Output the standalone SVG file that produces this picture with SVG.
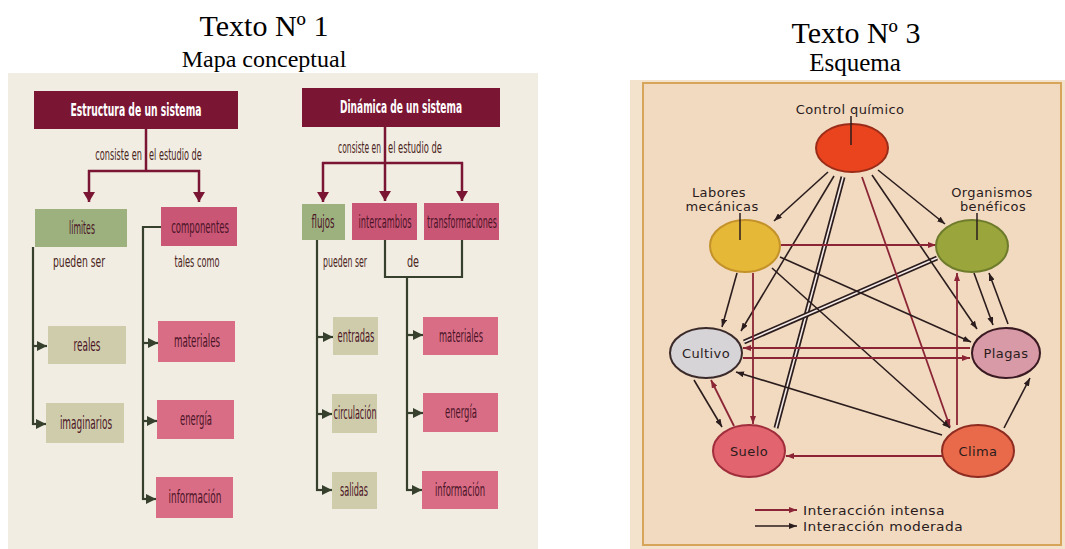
<svg xmlns="http://www.w3.org/2000/svg" width="1065" height="549" viewBox="0 0 1065 549">
  <style>
    .title { font-family: "Liberation Serif", "Times New Roman", serif; fill: #000; text-anchor: middle; }
    .hdr { font-family: "DejaVu Sans Condensed", "DejaVu Sans", sans-serif; font-weight: bold; font-size: 17px; fill: #ffffff; text-anchor: middle; }
    .lbl { font-family: "DejaVu Sans Condensed", "DejaVu Sans", sans-serif; font-size: 17px; fill: #4b1426; text-anchor: middle; }
    .lnk { font-family: "DejaVu Sans Condensed", "DejaVu Sans", sans-serif; font-size: 15px; fill: #4a2420; }
    .mid { text-anchor: middle; }
    .end { text-anchor: end; }
    .start { text-anchor: start; }
    .box-h { fill: #7a1533; }
    .box-g { fill: #9db17f; }
    .box-p { fill: #ca5676; }
    .box-l { fill: #da6d86; }
    .box-b { fill: #cfccab; }
    .top { stroke: #7a1533; stroke-width: 2.5; fill: none; }
    .side { stroke: #36402c; stroke-width: 2.2; fill: none; }
    .node { stroke-width: 2; }
    .ntxt { font-family: "DejaVu Sans", "Noto Sans", sans-serif; font-size: 13px; letter-spacing: 0.4px; fill: #2a1c1c; text-anchor: middle; }
    .tick { stroke: #2a1c1c; stroke-width: 1.5; }
    .dk { stroke: #2b1d1d; stroke-width: 1.6; fill: none; marker-end: url(#adk); }
    .mr { stroke: #8b2535; stroke-width: 1.8; fill: none; marker-end: url(#amr); }
    .dbl-o { stroke: #2b1d1d; stroke-width: 5; fill: none; }
    .dbl-i { stroke: #f6ecea; stroke-width: 1.6; fill: none; }
  </style>
  <defs>
    <marker id="atop" viewBox="0 0 10 12" refX="10" refY="6" markerWidth="10" markerHeight="12" markerUnits="userSpaceOnUse" orient="auto">
      <path d="M0,0 L10,6 L0,12 Z" fill="#7a1533"/>
    </marker>
    <marker id="aside" viewBox="0 0 10 10" refX="10" refY="5" markerWidth="10" markerHeight="10" markerUnits="userSpaceOnUse" orient="auto">
      <path d="M0,0 L10,5 L0,10 Z" fill="#36402c"/>
    </marker>
    <marker id="adk" viewBox="0 0 8 6" refX="8" refY="3" markerWidth="8" markerHeight="6" markerUnits="userSpaceOnUse" orient="auto">
      <path d="M0,0 L8,3 L0,6 Z" fill="#2b1d1d"/>
    </marker>
    <marker id="amr" viewBox="0 0 8 6" refX="8" refY="3" markerWidth="8" markerHeight="6" markerUnits="userSpaceOnUse" orient="auto">
      <path d="M0,0 L8,3 L0,6 Z" fill="#8b2535"/>
    </marker>
  </defs>

  <rect width="1065" height="549" fill="#ffffff"/>

  <!-- Titles -->
  <text class="title" x="264" y="36" font-size="30">Texto Nº 1</text>
  <text class="title" x="264" y="67" font-size="24">Mapa conceptual</text>
  <text class="title" x="856" y="43" font-size="30">Texto Nº 3</text>
  <text class="title" x="855" y="71" font-size="25">Esquema</text>

  <!-- ===== Concept map panel ===== -->
  <rect x="8" y="73" width="530" height="476" fill="#f1ede3"/>

  <g id="connectors-map">
    <!-- Estructura branches -->
    <line class="top" x1="146" y1="129" x2="146" y2="171"/>
    <line class="top" x1="88" y1="171" x2="200" y2="171"/>
    <line class="top" x1="89" y1="170" x2="89" y2="202" marker-end="url(#atop)"/>
    <line class="top" x1="199" y1="170" x2="199" y2="202" marker-end="url(#atop)"/>
    <!-- Dinámica branches -->
    <line class="top" x1="385" y1="127" x2="385" y2="201" marker-end="url(#atop)"/>
    <line class="top" x1="322" y1="163" x2="463" y2="163"/>
    <line class="top" x1="323" y1="162" x2="323" y2="202" marker-end="url(#atop)"/>
    <line class="top" x1="462" y1="162" x2="462" y2="201" marker-end="url(#atop)"/>

    <!-- límites -> reales / imaginarios -->
    <line class="side" x1="33" y1="247" x2="33" y2="425"/>
    <line class="side" x1="32" y1="346" x2="47" y2="346" marker-end="url(#aside)"/>
    <line class="side" x1="32" y1="424" x2="46" y2="424" marker-end="url(#aside)"/>
    <!-- componentes -> materiales / energía / información -->
    <polyline class="side" points="161,227 143,227 143,500"/>
    <line class="side" x1="142" y1="343" x2="158" y2="343" marker-end="url(#aside)"/>
    <line class="side" x1="142" y1="421" x2="157" y2="421" marker-end="url(#aside)"/>
    <line class="side" x1="142" y1="499" x2="156" y2="499" marker-end="url(#aside)"/>
    <!-- flujos -> entradas / circulación / salidas -->
    <line class="side" x1="317" y1="240" x2="317" y2="491"/>
    <line class="side" x1="316" y1="337" x2="333" y2="337" marker-end="url(#aside)"/>
    <line class="side" x1="316" y1="414" x2="332" y2="414" marker-end="url(#aside)"/>
    <line class="side" x1="316" y1="490" x2="332" y2="490" marker-end="url(#aside)"/>
    <!-- intercambios / transformaciones de -> materiales / energía / información -->
    <polyline class="side" points="385,240 385,277 462,277 462,240"/>
    <line class="side" x1="407" y1="277" x2="407" y2="491"/>
    <line class="side" x1="406" y1="335" x2="423" y2="335" marker-end="url(#aside)"/>
    <line class="side" x1="406" y1="413" x2="423" y2="413" marker-end="url(#aside)"/>
    <line class="side" x1="406" y1="490" x2="422" y2="490" marker-end="url(#aside)"/>

    <!-- linking words (condensed by a horizontal scale of 0.55) -->
    <text class="lnk end" transform="translate(142,160) scale(0.55,1)" textLength="85" lengthAdjust="spacingAndGlyphs">consiste en</text>
    <text class="lnk start" transform="translate(149,160) scale(0.55,1)" textLength="96" lengthAdjust="spacingAndGlyphs">el estudio de</text>
    <text class="lnk mid" transform="translate(79,267) scale(0.55,1)" textLength="95" lengthAdjust="spacingAndGlyphs">pueden ser</text>
    <text class="lnk mid" transform="translate(197,267) scale(0.55,1)" textLength="82" lengthAdjust="spacingAndGlyphs">tales como</text>
    <text class="lnk end" transform="translate(381,153) scale(0.55,1)" textLength="78" lengthAdjust="spacingAndGlyphs">consiste en</text>
    <text class="lnk start" transform="translate(388,153) scale(0.55,1)" textLength="98" lengthAdjust="spacingAndGlyphs">el estudio de</text>
    <text class="lnk mid" transform="translate(345,267) scale(0.55,1)" textLength="80" lengthAdjust="spacingAndGlyphs">pueden ser</text>
    <text class="lnk mid" transform="translate(413,267) scale(0.55,1)" textLength="22" lengthAdjust="spacingAndGlyphs">de</text>
  </g>

  <g id="estructura">
    <rect class="box-h" x="34" y="91" width="204" height="38"/>
    <text class="hdr" x="136" y="116" textLength="131" lengthAdjust="spacingAndGlyphs">Estructura de un sistema</text>
  </g>
  <g id="limites">
    <rect class="box-g" x="35" y="209" width="92" height="38"/>
    <text class="lbl" transform="translate(82,234) scale(0.55,1)" textLength="47" lengthAdjust="spacingAndGlyphs">límites</text>
  </g>
  <g id="componentes">
    <rect class="box-p" x="161" y="207" width="76" height="39"/>
    <text class="lbl" transform="translate(200,233) scale(0.55,1)" textLength="105" lengthAdjust="spacingAndGlyphs">componentes</text>
  </g>
  <g id="reales">
    <rect class="box-b" x="48" y="326" width="78" height="38"/>
    <text class="lbl" transform="translate(87,351) scale(0.55,1)" textLength="49" lengthAdjust="spacingAndGlyphs">reales</text>
  </g>
  <g id="imaginarios">
    <rect class="box-b" x="46" y="403" width="78" height="40"/>
    <text class="lbl" transform="translate(86,429) scale(0.55,1)" textLength="95" lengthAdjust="spacingAndGlyphs">imaginarios</text>
  </g>
  <g id="materiales-1">
    <rect class="box-l" x="158" y="321" width="77" height="41"/>
    <text class="lbl" transform="translate(197,347) scale(0.55,1)" textLength="84" lengthAdjust="spacingAndGlyphs">materiales</text>
  </g>
  <g id="energia-1">
    <rect class="box-l" x="157" y="400" width="77" height="39"/>
    <text class="lbl" transform="translate(196,425) scale(0.55,1)" textLength="58" lengthAdjust="spacingAndGlyphs">energía</text>
  </g>
  <g id="informacion-1">
    <rect class="box-l" x="156" y="477" width="77" height="41"/>
    <text class="lbl" transform="translate(195,503) scale(0.55,1)" textLength="96" lengthAdjust="spacingAndGlyphs">información</text>
  </g>

  <g id="dinamica">
    <rect class="box-h" x="302" y="88" width="198" height="39"/>
    <text class="hdr" x="401" y="113" textLength="122" lengthAdjust="spacingAndGlyphs">Dinámica de un sistema</text>
  </g>
  <g id="flujos">
    <rect class="box-g" x="302" y="204" width="43" height="36"/>
    <text class="lbl" transform="translate(323,228) scale(0.55,1)" textLength="42" lengthAdjust="spacingAndGlyphs">flujos</text>
  </g>
  <g id="intercambios">
    <rect class="box-p" x="352" y="203" width="65" height="37"/>
    <text class="lbl" transform="translate(385,228) scale(0.55,1)" textLength="96" lengthAdjust="spacingAndGlyphs">intercambios</text>
  </g>
  <g id="transformaciones">
    <rect class="box-p" x="424" y="203" width="75" height="37"/>
    <text class="lbl" transform="translate(462,228) scale(0.55,1)" textLength="127" lengthAdjust="spacingAndGlyphs">transformaciones</text>
  </g>
  <g id="entradas">
    <rect class="box-b" x="333" y="317" width="45" height="38"/>
    <text class="lbl" transform="translate(356,342) scale(0.55,1)" textLength="67" lengthAdjust="spacingAndGlyphs">entradas</text>
  </g>
  <g id="circulacion">
    <rect class="box-b" x="332" y="394" width="45" height="39"/>
    <text class="lbl" transform="translate(355,419) scale(0.55,1)" textLength="78" lengthAdjust="spacingAndGlyphs">circulación</text>
  </g>
  <g id="salidas">
    <rect class="box-b" x="332" y="472" width="45" height="37"/>
    <text class="lbl" transform="translate(354,496) scale(0.55,1)" textLength="51" lengthAdjust="spacingAndGlyphs">salidas</text>
  </g>
  <g id="materiales-2">
    <rect class="box-l" x="423" y="317" width="75" height="38"/>
    <text class="lbl" transform="translate(461,342) scale(0.55,1)" textLength="80" lengthAdjust="spacingAndGlyphs">materiales</text>
  </g>
  <g id="energia-2">
    <rect class="box-l" x="423" y="393" width="75" height="39"/>
    <text class="lbl" transform="translate(461,418) scale(0.55,1)" textLength="58" lengthAdjust="spacingAndGlyphs">energía</text>
  </g>
  <g id="informacion-2">
    <rect class="box-l" x="422" y="471" width="76" height="38"/>
    <text class="lbl" transform="translate(460,496) scale(0.55,1)" textLength="91" lengthAdjust="spacingAndGlyphs">información</text>
  </g>

  <!-- ===== Scheme panel ===== -->
  <rect x="630" y="80" width="435" height="469" fill="#f4e3cc"/>
  <rect x="643" y="83" width="418" height="462" fill="#f2dac1" stroke="#d6a55a" stroke-width="2"/>

  <g id="connectors-scheme">
    <!-- double lines (intense interaction) -->
    <line class="dbl-o" x1="843" y1="177" x2="776" y2="428"/>
    <line class="dbl-i" x1="843" y1="177" x2="776" y2="428"/>
    <line class="dbl-o" x1="937" y1="258" x2="744" y2="342"/>
    <line class="dbl-i" x1="937" y1="258" x2="744" y2="342"/>

    <!-- from Control químico -->
    <line class="dk" x1="828" y1="172" x2="774" y2="221"/>
    <line class="dk" x1="878" y1="170" x2="945" y2="224"/>
    <line class="dk" x1="834" y1="176" x2="741" y2="331"/>
    <line class="mr" x1="862" y1="177" x2="950" y2="427"/>
    <line class="dk" x1="872" y1="175" x2="977" y2="329"/>
    <!-- from Labores mecánicas -->
    <line class="mr" x1="781" y1="245" x2="936" y2="245"/>
    <line class="dk" x1="780" y1="257" x2="971" y2="342"/>
    <line class="dk" x1="772" y1="268" x2="950" y2="428"/>
    <line class="dk" x1="737" y1="273" x2="722" y2="327"/>
    <line class="mr" x1="753" y1="273" x2="753" y2="424"/>
    <!-- Organismos / Plagas / Clima -->
    <line class="mr" x1="957" y1="425" x2="957" y2="273"/>
    <line class="dk" x1="974" y1="273" x2="993" y2="325"/>
    <line class="dk" x1="1008" y1="324" x2="989" y2="273"/>
    <line class="mr" x1="970" y1="348" x2="743" y2="348"/>
    <line class="mr" x1="743" y1="358" x2="970" y2="358"/>
    <line class="dk" x1="942" y1="435" x2="736" y2="372"/>
    <line class="dk" x1="694" y1="380" x2="722" y2="427"/>
    <line class="mr" x1="734" y1="426" x2="711" y2="380"/>
    <line class="mr" x1="942" y1="456" x2="786" y2="456"/>
    <line class="dk" x1="1004" y1="428" x2="1030" y2="378"/>
  </g>

  <g id="control-quimico">
    <ellipse class="node" cx="852" cy="148" rx="36" ry="24" fill="#e9441e" stroke="#9a2d1a"/>
    <line class="tick" x1="851" y1="116" x2="851" y2="145"/>
    <text class="ntxt" x="850" y="114">Control químico</text>
  </g>
  <g id="labores-mecanicas">
    <ellipse class="node" cx="745" cy="246" rx="35" ry="26" fill="#e6b838" stroke="#c4922a"/>
    <line class="tick" x1="740" y1="213" x2="740" y2="240"/>
    <text class="ntxt" x="719" y="197">Labores</text>
    <text class="ntxt" x="722" y="211">mecánicas</text>
  </g>
  <g id="organismos-beneficos">
    <ellipse class="node" cx="972" cy="246" rx="36" ry="26" fill="#9aa63c" stroke="#6f7c2c"/>
    <line class="tick" x1="977" y1="213" x2="977" y2="240"/>
    <text class="ntxt" x="992" y="197">Organismos</text>
    <text class="ntxt" x="993" y="211">benéficos</text>
  </g>
  <g id="cultivo">
    <ellipse class="node" cx="706" cy="353" rx="36" ry="25" fill="#d7d4d8" stroke="#3a2a2a"/>
    <text class="ntxt" x="706" y="358">Cultivo</text>
  </g>
  <g id="plagas">
    <ellipse class="node" cx="1006" cy="353" rx="34" ry="25" fill="#d89aa6" stroke="#3a1a22"/>
    <text class="ntxt" x="1006" y="358">Plagas</text>
  </g>
  <g id="suelo">
    <ellipse class="node" cx="749" cy="451" rx="36" ry="26" fill="#e2646e" stroke="#a02e3c"/>
    <text class="ntxt" x="749" y="456">Suelo</text>
  </g>
  <g id="clima">
    <ellipse class="node" cx="978" cy="451" rx="36" ry="26" fill="#e96a4a" stroke="#8e2c22"/>
    <text class="ntxt" x="978" y="456">Clima</text>
  </g>

  <g id="legend">
    <line class="mr" x1="755" y1="510" x2="797" y2="510"/>
    <line class="dk" x1="755" y1="526" x2="797" y2="526"/>
    <text class="ntxt" x="803" y="515" style="text-anchor:start" textLength="142" lengthAdjust="spacingAndGlyphs">Interacción intensa</text>
    <text class="ntxt" x="803" y="531" style="text-anchor:start" textLength="160" lengthAdjust="spacingAndGlyphs">Interacción moderada</text>
  </g>
</svg>
